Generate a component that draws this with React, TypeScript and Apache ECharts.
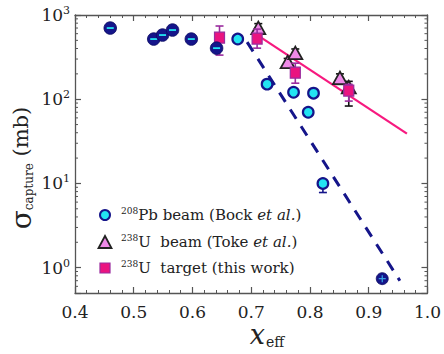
import React, { useEffect, useRef } from 'react';
import * as echarts from 'echarts';

// ---- axes ----
const xMin = 0.4;
const xMax = 1.0;
const xStep = 0.1;
const yMin = 0.5;
const yMax = 1000;
const yMinorTicks = [
  0.6, 0.7, 0.8, 0.9,
  2, 3, 4, 5, 6, 7, 8, 9,
  20, 30, 40, 50, 60, 70, 80, 90,
  200, 300, 400, 500, 600, 700, 800, 900,
];

// ---- 208Pb beam (Bock et al.) ----
const pbDarkX = [0.46, 0.534, 0.549, 0.566, 0.598, 0.641];
const pbDarkY = [700, 518, 578, 663, 518, 404];
const pbCrossX = [0.923];
const pbCrossY = [0.74];
const pbOpenX = [0.677, 0.727, 0.772, 0.797, 0.806, 0.822];
const pbOpenY = [518, 151, 121, 70, 118, 10];
const pbErrX = [0.822];
const pbErrMid = [10];
const pbErrLo = [7.8];
const pbErrHi = [10];

// ---- 238U beam (Toke et al.) ----
const uX = [0.712, 0.762, 0.775, 0.851, 0.866];
const uY = [680, 268, 343, 173, 135];
const uLo = [600, 235, 300, 150, 83];
const uHi = [790, 305, 395, 200, 163];

// ---- 238U target (this work) ----
const tX = [0.646, 0.71, 0.775, 0.866];
const tY = [532, 518, 204, 125];
const tLo = [334, 404, 155, 95];
const tHi = [740, 680, 268, 150];

// ---- fits ----
const pbFitX = [0.693, 0.953];
const pbFitY = [477, 0.7];
const uFitX = [0.715, 0.965];
const uFitY = [550, 39];

const NAVY = '#15158a';
const CYAN = '#22e4f2';
const PINK = '#ea1480';
const PURPLE = '#9a2c9e';
const VIOLET = '#ee8ae8';
const PINKLINE = '#f7197f';
const AXIS = '#555';
const TXT = '#222';
const FONT = 'DejaVu Serif';

const zip = (a: number[], b: number[]) => a.map((v, i) => [v, b[i]]);
const zip4 = (a: number[], b: number[], c: number[], d: number[]) =>
  a.map((v, i) => [v, b[i], c[i], d[i]]);

export default function App() {
  const ref = useRef<HTMLDivElement>(null);
  useEffect(() => {
    if (!ref.current) return;
    const chart = echarts.init(ref.current, null, { renderer: 'svg' });

    const errRender = (color: string, cap: number, lw: number) => (params: any, api: any) => {
      const x = api.value(0);
      const lo = api.coord([x, api.value(2)]);
      const hi = api.coord([x, api.value(3)]);
      const style = { stroke: color, lineWidth: lw };
      return {
        type: 'group',
        children: [
          { type: 'line', shape: { x1: lo[0], y1: lo[1], x2: hi[0], y2: hi[1] }, style },
          { type: 'line', shape: { x1: lo[0] - cap, y1: lo[1], x2: lo[0] + cap, y2: lo[1] }, style },
          { type: 'line', shape: { x1: hi[0] - cap, y1: hi[1], x2: hi[0] + cap, y2: hi[1] }, style },
        ],
      };
    };

    const axisCommon = {
      axisLine: { show: true, lineStyle: { color: AXIS, width: 1.3 } },
      axisTick: { show: true, inside: true, length: 6, lineStyle: { color: AXIS, width: 1.2 } },
      splitLine: { show: false },
    };

    const option: any = {
      animation: false,
      textStyle: { fontFamily: FONT },
      grid: { left: 75, right: 11, top: 15, bottom: 61 },
      xAxis: [
        {
          type: 'value', min: xMin, max: xMax, interval: xStep, position: 'bottom',
          ...axisCommon,
          minorTick: { show: true, splitNumber: 5, length: 3, lineStyle: { color: AXIS, width: 1 } },
          axisLabel: {
            margin: 10, color: TXT, fontFamily: FONT, fontSize: 17,
            formatter: (v: number) => v.toFixed(1),
          },
        },
        {
          type: 'value', min: xMin, max: xMax, interval: xStep, position: 'top',
          ...axisCommon,
          minorTick: { show: true, splitNumber: 5, length: 3, lineStyle: { color: AXIS, width: 1 } },
          axisLabel: { show: false },
        },
      ],
      yAxis: [
        {
          type: 'log', logBase: 10, min: yMin, max: yMax, position: 'left',
          ...axisCommon,
          axisLabel: {
            margin: 5, color: TXT, fontFamily: FONT,
            formatter: (v: number) => {
              const l = Math.log10(v);
              const e = Math.round(l);
              if (Math.abs(l - e) > 1e-6) return '';
              return `{b|10}{s|${e}}`;
            },
            rich: {
              b: { fontFamily: FONT, fontSize: 17, color: TXT, lineHeight: 20 },
              s: { fontFamily: FONT, fontSize: 11, color: TXT, lineHeight: 11, verticalAlign: 'top' },
            },
          },
        },
        {
          type: 'log', logBase: 10, min: yMin, max: yMax, position: 'right',
          ...axisCommon,
          axisLabel: { show: false },
        },
      ],
      series: [
        {
          type: 'custom', silent: true, clip: false, z: 1,
          data: yMinorTicks.map((v) => [xMin, v]),
          renderItem: (params: any, api: any) => {
            const p = api.coord([xMin, api.value(1)]);
            const cs = params.coordSys;
            const style = { stroke: AXIS, lineWidth: 1 };
            return {
              type: 'group',
              children: [
                { type: 'line', shape: { x1: cs.x, y1: p[1], x2: cs.x + 3, y2: p[1] }, style },
                { type: 'line', shape: { x1: cs.x + cs.width - 3, y1: p[1], x2: cs.x + cs.width, y2: p[1] }, style },
              ],
            };
          },
        },
        {
          type: 'line', data: zip(pbFitX, pbFitY), symbol: 'none', z: 2,
          lineStyle: { color: NAVY, width: 3, type: [11, 9] },
        },
        {
          type: 'line', data: zip(uFitX, uFitY), symbol: 'none', z: 2,
          lineStyle: { color: PINKLINE, width: 2.2 },
        },
        {
          type: 'custom', z: 3, data: zip4(uX, uY, uLo, uHi),
          renderItem: errRender('#111', 4, 1.6),
        },
        {
          type: 'custom', z: 4, data: zip(uX, uY),
          renderItem: (params: any, api: any) => {
            const p = api.coord([api.value(0), api.value(1)]);
            return {
              type: 'polygon',
              shape: { points: [[p[0], p[1] - 7.5], [p[0] - 7, p[1] + 5], [p[0] + 7, p[1] + 5]] },
              style: { fill: VIOLET, stroke: '#222', lineWidth: 1.8 },
            };
          },
        },
        {
          type: 'custom', z: 5, data: zip4(tX, tY, tLo, tHi),
          renderItem: errRender(PURPLE, 4, 1.6),
        },
        {
          type: 'custom', z: 6, data: zip(tX, tY),
          renderItem: (params: any, api: any) => {
            const p = api.coord([api.value(0), api.value(1)]);
            return {
              type: 'rect',
              shape: { x: p[0] - 5, y: p[1] - 6, width: 10, height: 11 },
              style: { fill: PINK, stroke: PURPLE, lineWidth: 1.2 },
            };
          },
        },
        {
          type: 'custom', z: 6, data: zip4(pbErrX, pbErrMid, pbErrLo, pbErrHi),
          renderItem: errRender(NAVY, 4, 1.6),
        },
        {
          type: 'custom', z: 7, data: zip(pbOpenX, pbOpenY),
          renderItem: (params: any, api: any) => {
            const p = api.coord([api.value(0), api.value(1)]);
            return {
              type: 'circle', shape: { cx: p[0], cy: p[1], r: 5.3 },
              style: { fill: CYAN, stroke: NAVY, lineWidth: 2.2 },
            };
          },
        },
        {
          type: 'custom', z: 7, data: zip(pbDarkX, pbDarkY),
          renderItem: (params: any, api: any) => {
            const p = api.coord([api.value(0), api.value(1)]);
            return {
              type: 'group',
              children: [
                { type: 'circle', shape: { cx: p[0], cy: p[1], r: 6.3 }, style: { fill: NAVY, stroke: '#0a0a60', lineWidth: 0.8 } },
                { type: 'line', shape: { x1: p[0] - 3.5, y1: p[1], x2: p[0] + 3.5, y2: p[1] }, style: { stroke: CYAN, lineWidth: 1.8 } },
              ],
            };
          },
        },
        {
          type: 'custom', z: 7, data: zip(pbCrossX, pbCrossY),
          renderItem: (params: any, api: any) => {
            const p = api.coord([api.value(0), api.value(1)]);
            return {
              type: 'group',
              children: [
                { type: 'circle', shape: { cx: p[0], cy: p[1], r: 6 }, style: { fill: NAVY, stroke: '#0a0a60', lineWidth: 0.8 } },
                { type: 'line', shape: { x1: p[0] - 3.5, y1: p[1], x2: p[0] + 3.5, y2: p[1] }, style: { stroke: '#3aa8e8', lineWidth: 1.2 } },
                { type: 'line', shape: { x1: p[0], y1: p[1] - 3.5, x2: p[0], y2: p[1] + 3.5 }, style: { stroke: '#3aa8e8', lineWidth: 1.2 } },
              ],
            };
          },
        },
      ],
      graphic: [
        {
          type: 'text', x: 21, y: 168, rotation: Math.PI / 2,
          style: {
            text: '{g|σ}{c|capture}{m| (mb)}',
            align: 'center', verticalAlign: 'middle', fill: TXT, fontFamily: FONT,
            rich: {
              g: { fontFamily: FONT, fontSize: 28, fill: TXT, lineHeight: 28 },
              c: { fontFamily: FONT, fontSize: 12, fill: TXT, lineHeight: 12, verticalAlign: 'bottom' },
              m: { fontFamily: FONT, fontSize: 21, fill: TXT, lineHeight: 28 },
            },
          },
        },
        {
          type: 'text', x: 265, y: 334,
          style: {
            text: 'x', align: 'right', verticalAlign: 'middle', fill: TXT,
            fontFamily: FONT, fontSize: 27, fontStyle: 'italic', lineHeight: 14,
          },
        },
        {
          type: 'text', x: 266, y: 342,
          style: {
            text: 'eff', align: 'left', verticalAlign: 'middle', fill: TXT,
            fontFamily: FONT, fontSize: 14, lineHeight: 12,
          },
        },
        { type: 'circle', shape: { cx: 105, cy: 215, r: 5 }, style: { fill: CYAN, stroke: NAVY, lineWidth: 2 } },
        {
          type: 'polygon',
          shape: { points: [[105, 236], [98.5, 248], [111.5, 248]] },
          style: { fill: VIOLET, stroke: '#222', lineWidth: 1.8 },
        },
        { type: 'rect', shape: { x: 100, y: 263, width: 10, height: 10 }, style: { fill: PINK, stroke: PURPLE, lineWidth: 1.2 } },
        ...[
          ['208', 'Pb beam (Bock ', 'et al.', ')', 215],
          ['238', 'U  beam (Toke ', 'et al.', ')', 242],
          ['238', 'U  target (this work)', '', '', 268],
        ].map((row: any[]) => ({
          type: 'text', x: 121, y: row[4],
          style: {
            text: `{s|${row[0]}}{t|${row[1]}}` + (row[2] ? `{i|${row[2]}}{t|${row[3]}}` : ''),
            align: 'left', verticalAlign: 'middle', fill: TXT, fontFamily: FONT,
            rich: {
              s: { fontFamily: FONT, fontSize: 9, fill: TXT, lineHeight: 9, verticalAlign: 'top' },
              t: { fontFamily: FONT, fontSize: 15, fill: TXT, lineHeight: 18 },
              i: { fontFamily: FONT, fontSize: 15, fontStyle: 'italic', fill: TXT, lineHeight: 18 },
            },
          },
        })),
      ],
    };

    chart.setOption(option);
    return () => chart.dispose();
  }, []);

  return (
    <div
      ref={ref}
      style={{ position: 'fixed', left: 0, top: 0, width: 444, height: 354, background: '#fff' }}
    />
  );
}
